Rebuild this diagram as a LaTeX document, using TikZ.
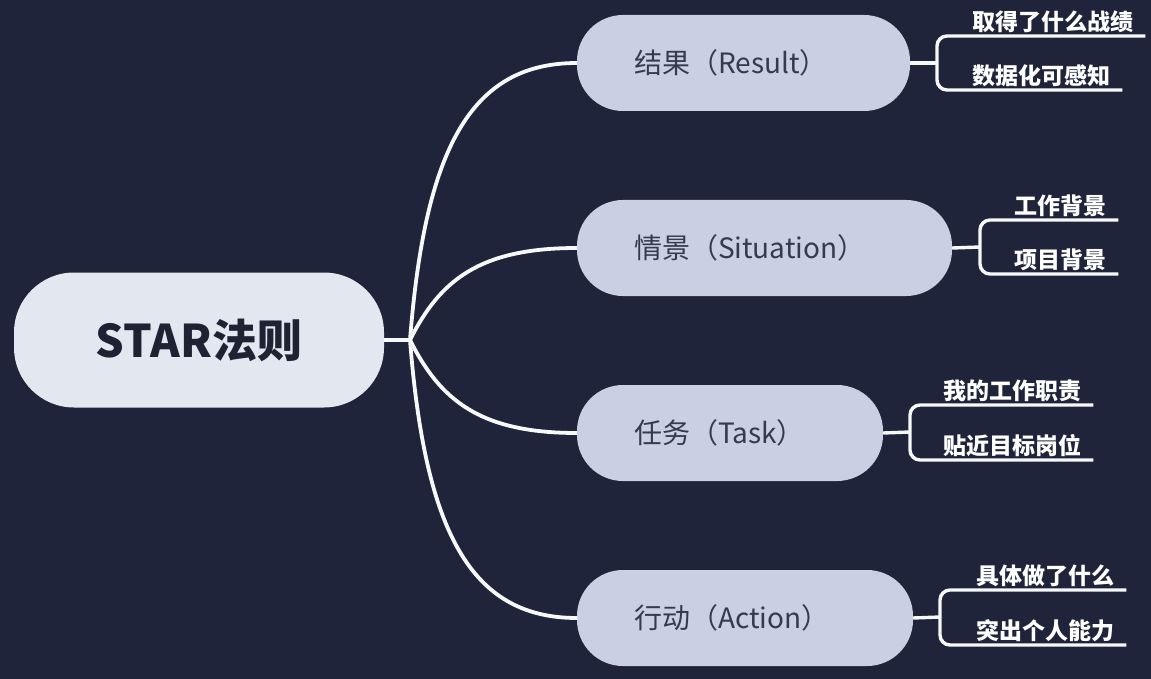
\documentclass[tikz,border=0pt]{standalone}
\usepackage{fontspec}
\newfontfamily\cjk{Noto Sans CJK SC}
\usetikzlibrary{calc}
\definecolor{bgc}{HTML}{1F243A}
\definecolor{rootfill}{HTML}{E3E7EF}
\definecolor{childfill}{HTML}{C9D0E3}
\definecolor{roottext}{HTML}{1E2232}
\definecolor{childtext}{HTML}{343A50}
\definecolor{linec}{HTML}{F7F8FA}
\begin{document}
\begin{tikzpicture}[x=1pt,y=-1pt,
  rootbox/.style={draw=none, fill=rootfill, rounded corners=60pt, minimum width=370pt, minimum height=135pt, inner sep=0pt, font=\cjk\bfseries\fontsize{45}{50}\selectfont, text=roottext},
  childbox/.style={draw=none, fill=childfill, rounded corners=46pt, minimum height=96pt, inner sep=0pt, align=left, font=\cjk\fontsize{28}{32}\selectfont, text=childtext},
  leaf/.style={inner xsep=0pt, inner ysep=3pt, font=\cjk\bfseries\fontsize{23}{26}\selectfont, text=white, anchor=south west},
  conn/.style={draw=linec, line width=3.8pt},
  brk/.style={draw=linec, line width=3.4pt, rounded corners=10pt}]
\fill[bgc] (0,0) rectangle (1151,679);
\useasboundingbox (0,0) rectangle (1151,679);

\node[rootbox] (root) at (199,340) {STAR法则};
\node[childbox, text width=333pt] (res) at (743.5,63) {\hspace*{57pt}结果（Result）};
\node[childbox, text width=375pt] (sit) at (764.5,248) {\hspace*{57pt}情景（Situation）};
\node[childbox, text width=306pt] (task) at (730,433) {\hspace*{57pt}任务（Task）};
\node[childbox, text width=336pt] (act) at (745,618) {\hspace*{57pt}行动（Action）};

\coordinate (J) at (410,340);
\draw[conn] (root.east) -- (J);
\draw[conn] (J) .. controls +(15,-190) and +(-107,0) .. (res.west);
\draw[conn] (J) .. controls +(30,-60) and +(-97,0) .. (sit.west);
\draw[conn] (J) .. controls +(30,60) and +(-97,0) .. (task.west);
\draw[conn] (J) .. controls +(15,190) and +(-107,0) .. (act.west);

% Result leaves
\coordinate (rb) at (937,63);
\node[leaf] (r1) at (972,36) {取得了什么战绩};
\node[leaf] (r2) at (972,90) {数据化可感知};
\draw[brk] (res.east) -- (rb);
\draw[brk] ([xshift=12pt]r1.south east) -- (r1.south -| rb) -- (r2.south -| rb) -- ([xshift=12pt]r2.south east);

% Situation leaves
\coordinate (sb) at (980,247);
\node[leaf] (s1) at (1014,220) {工作背景};
\node[leaf] (s2) at (1014,274) {项目背景};
\draw[brk] (sit.east) -- (sb);
\draw[brk] ([xshift=12pt]s1.south east) -- (s1.south -| sb) -- (s2.south -| sb) -- ([xshift=12pt]s2.south east);

% Task leaves
\coordinate (tb) at (910,432);
\node[leaf] (t1) at (943,405) {我的工作职责};
\node[leaf] (t2) at (943,460) {贴近目标岗位};
\draw[brk] (task.east) -- (tb);
\draw[brk] ([xshift=12pt]t1.south east) -- (t1.south -| tb) -- (t2.south -| tb) -- ([xshift=12pt]t2.south east);

% Action leaves
\coordinate (ab) at (940,617);
\node[leaf] (a1) at (976,590) {具体做了什么};
\node[leaf] (a2) at (976,645) {突出个人能力};
\draw[brk] (act.east) -- (ab);
\draw[brk] ([xshift=12pt]a1.south east) -- (a1.south -| ab) -- (a2.south -| ab) -- ([xshift=12pt]a2.south east);
\end{tikzpicture}
\end{document}
